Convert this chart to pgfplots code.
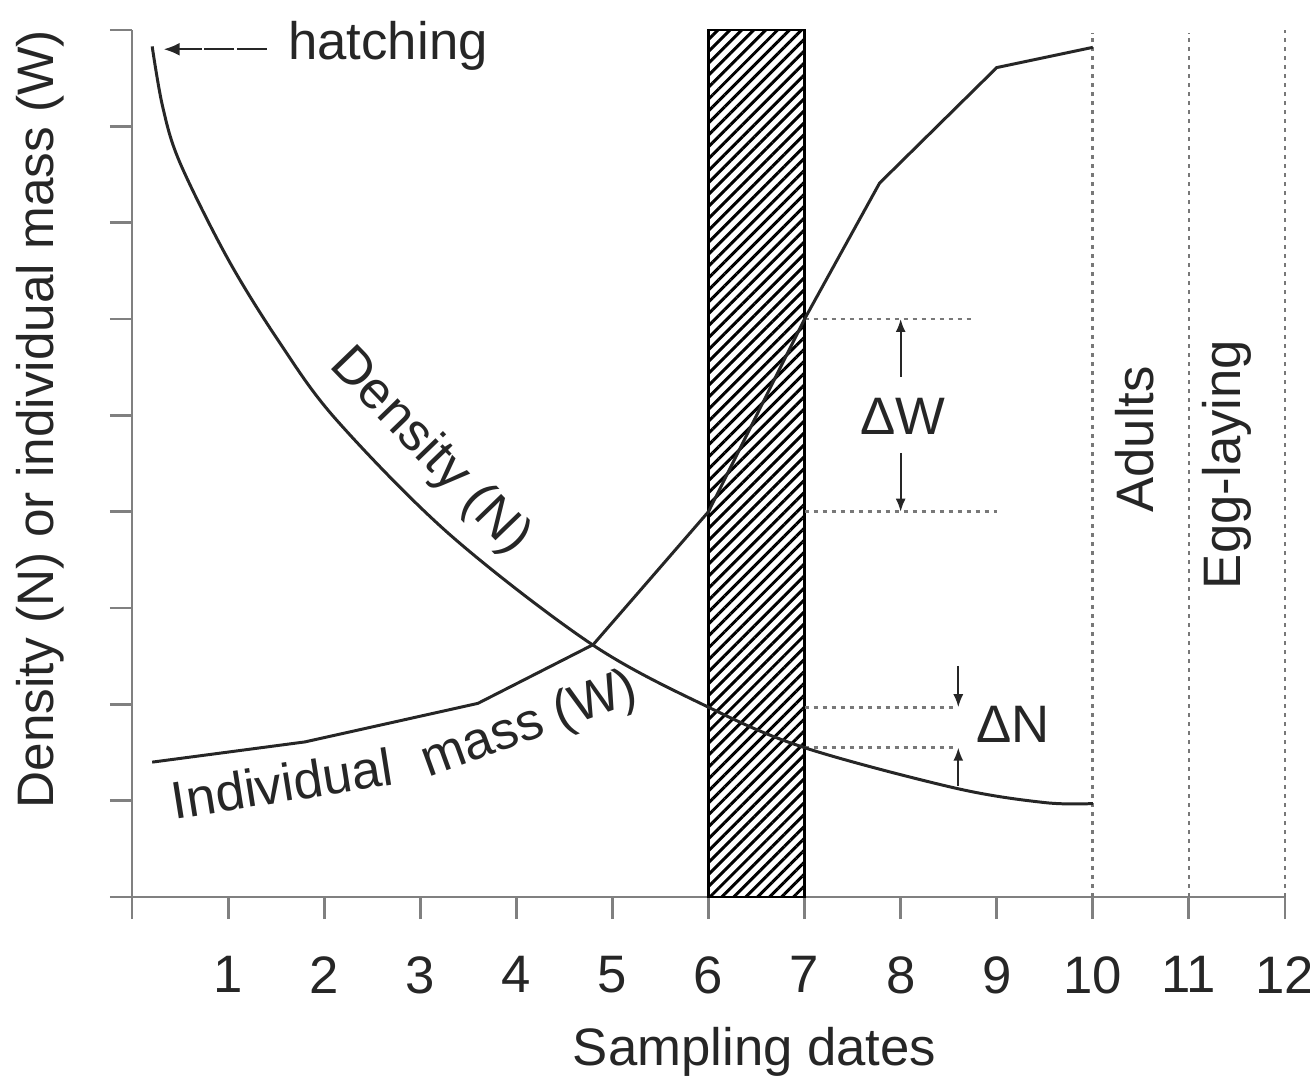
\documentclass[border=0pt]{standalone}
\usepackage{pgfplots}
\pgfplotsset{compat=1.18}
\usepackage{fontspec}
\setmainfont{Liberation Sans}
\usetikzlibrary{arrows.meta,patterns.meta}

\definecolor{axisgray}{HTML}{808080}
\definecolor{ink}{HTML}{262626}
\definecolor{dotgray}{HTML}{787878}

\tikzset{
  dotline/.style={dotgray, line width=0.8pt, dash pattern=on 0.45mm off 0.45mm},
  darr/.style={ink, line width=0.5pt, -{Latex[length=1.3mm,width=1mm]}},
}

\begin{document}
\begin{tikzpicture}[font=\fontsize{15}{18}\selectfont]
\useasboundingbox (-1.32,-1.85) rectangle (11.78,8.97);
\begin{axis}[
  scale only axis,
  width=11.53cm, height=8.67cm,
  xmin=0, xmax=12, ymin=0, ymax=9,
  axis lines*=left,
  axis line style={axisgray, line width=0.85pt},
  every tick/.style={axisgray, line width=0.85pt},
  tick align=outside,
  major tick length=2.2mm,
  xtick={0,...,12},
  xticklabels={,1,2,3,4,5,6,7,8,9,10,11,12},
  ytick={0,...,9},
  yticklabels={},
  tick label style={font=\fontsize{15}{18}\selectfont, text=ink},
  xticklabel style={yshift=-2.5mm},
  label style={font=\fontsize{15}{18}\selectfont, text=ink},
  xlabel={Sampling dates},
  xlabel style={at={(axis description cs:0.54,-0.194)}, anchor=base},
  ylabel={Density (N) or individual mass (W)},
  ylabel style={at={(axis description cs:-0.0798,0.551)}, anchor=center,
                font=\fontsize{14.6}{18}\selectfont},
  clip=false,
]

% hatched interval between dates 6 and 7
\addplot[draw=black, line width=0.7pt,
  pattern={Lines[angle=45,distance=2.4pt,line width=0.85pt]}, pattern color=black]
  coordinates {(6,0) (6,9) (7,9) (7,0)} -- cycle;

% dotted verticals
\addplot[dotline] coordinates {(10,0) (10,8.97)};
\addplot[dotline] coordinates {(11,0) (11,8.97)};
\addplot[dotline] coordinates {(12,0) (12,9)};

% dotted guides for delta W and delta N
\addplot[dotline] coordinates {(7,6.0) (8.75,6.0)};
\addplot[dotline] coordinates {(7,4.0) (9.0,4.0)};
\addplot[dotline] coordinates {(7,1.97) (8.58,1.97)};
\addplot[dotline] coordinates {(7,1.55) (8.58,1.55)};

% density (N)
\addplot[ink, line width=0.85pt, smooth, tension=0.55] coordinates {
  (0.21,8.83) (0.32,8.20) (0.50,7.62) (1.00,6.62) (1.54,5.75) (2.13,4.95)
  (3.31,3.76) (4.79,2.62) (6.00,1.97) (7.00,1.55) (8.57,1.13)
  (9.50,0.98) (10.00,0.97)
};

% individual mass (W)
\addplot[ink, line width=0.85pt] coordinates {
  (0.21,1.40) (1.80,1.61) (3.60,2.01) (4.80,2.62) (6.00,4.00)
  (7.00,6.00) (7.78,7.41) (9.00,8.61) (10.00,8.82)
};

% arrows
\draw[darr] (axis cs:8.0,5.40) -- (axis cs:8.0,6.0);
\draw[darr] (axis cs:8.0,4.61) -- (axis cs:8.0,4.0);
\draw[darr] (axis cs:8.6,2.40) -- (axis cs:8.6,1.97);
\draw[darr] (axis cs:8.6,1.15) -- (axis cs:8.6,1.55);
\draw[ink, line width=0.6pt, -{Latex[length=1.6mm,width=1.3mm]},
      dash pattern=on 3mm off 0.25mm] (axis cs:1.40,8.80) -- (axis cs:0.33,8.80);

% labels
\node[text=ink, anchor=base west, inner sep=0pt] at (axis cs:1.62,8.69) {hatching};
\node[text=ink] at (axis cs:8.02,4.99) {ΔW};
\node[text=ink] at (axis cs:9.17,1.79) {ΔN};
\node[text=ink, rotate=90] at (axis cs:10.44,4.75) {Adults};
\node[text=ink, rotate=90] at (axis cs:11.40,4.49) {Egg-laying};
\node[text=ink, rotate=-46, inner sep=0pt] at (axis cs:3.10,4.62) {Density (N)};
\node[text=ink, rotate=9] at (axis cs:1.56,1.18) {Individual};
\node[text=ink, rotate=20] at (axis cs:4.14,1.77) {mass (W)};
\end{axis}
\end{tikzpicture}
\end{document}
